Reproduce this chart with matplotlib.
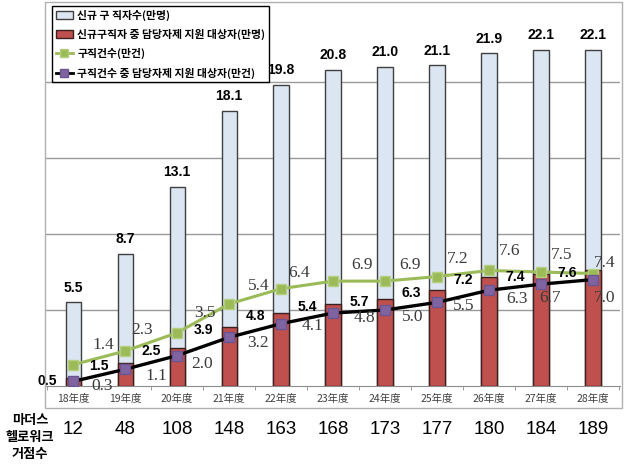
import numpy as np
import matplotlib.pyplot as plt
from matplotlib.patches import Rectangle, Patch
from matplotlib.lines import Line2D
import matplotlib.transforms as mtransforms

plt.rcParams['font.family'] = ['Noto Sans CJK KR', 'DejaVu Sans']

years = ['18年度', '19年度', '20年度', '21年度', '22年度', '23年度',
         '24年度', '25年度', '26年度', '27年度', '28年度']
new_seekers = [5.5, 8.7, 13.1, 18.1, 19.8, 20.8, 21.0, 21.1, 21.9, 22.1, 22.1]      # 신규 구직자수(만명)
new_support = [0.5, 1.5, 2.5, 3.9, 4.8, 5.4, 5.7, 6.3, 7.2, 7.4, 7.6]               # 담당자제 지원 대상자(만명)
jobs = [1.4, 2.3, 3.5, 5.4, 6.4, 6.9, 6.9, 7.2, 7.6, 7.5, 7.4]                      # 구직건수(만건)
jobs_support = [0.3, 1.1, 2.0, 3.2, 4.1, 4.8, 5.0, 5.5, 6.3, 6.7, 7.0]              # 구직건수 중 대상자(만건)
bases = [12, 48, 108, 148, 163, 168, 173, 177, 180, 184, 189]                       # 마더스 헬로워크 거점수

legend_labels = ['신규 구 직자수(만명)', '신규구직자 중 담당자제 지원 대상자(만명)',
                 '구직건수(만건)', '구직건수 중 담당자제 지원 대상자(만건)']

# label offsets in pixels (dx, dy) for the two line series
green_off = [(30, 20), (17, 21), (28, 20), (30, 18), (18, 16), (29, 16),
             (25, 16), (21, 18), (21, 19), (21, 17), (12, 11)]
black_off = [(29, -5), (31, -7), (25, -8), (29, -6), (31, -2), (31, -5),
             (28, -7), (27, -4), (28, -9), (9, -14), (12, -18)]

W, H = 624, 470
fig = plt.figure(figsize=(W / 100, H / 100), dpi=100)
ax = fig.add_axes([45 / W, 84 / H, 575 / W, 385 / H])

x = np.arange(len(years))
bw = 0.29
blue = '#dce6f2'
red = '#c0504d'
green = '#9bbb59'
purple = '#8064a2'

# outer chart frame
fig.patches.append(Rectangle((45 / W, 62 / H), 577 / W, 406 / H, transform=fig.transFigure,
                             fill=False, edgecolor='#b0b0b0', lw=1.0))

ax.bar(x, new_seekers, bw, color=blue, edgecolor='#3f3f3f', lw=1.0, zorder=2)
ax.bar(x, new_support, bw, color=red, edgecolor='#3a2020', lw=1.0, zorder=3)
ax.plot(x, jobs, color=green, lw=2.2, marker='s', ms=7, mfc=green, mec='#b5cf80', zorder=4)
ax.plot(x, jobs_support, color='black', lw=2.4, marker='s', ms=7.5, mfc=purple, mec='#6a5590', zorder=5)

ax.set_xlim(-0.54, 10.52)
ax.set_ylim(0, 385 / 15.2)
ax.set_yticks([5, 10, 15, 20])
ax.yaxis.grid(True, color='#9a9a9a', lw=1.0, zorder=0)
ax.set_axisbelow(True)
ax.tick_params(axis='y', left=False, labelleft=False)
for s in ['left', 'right', 'top']:
    ax.spines[s].set_visible(False)
ax.spines['bottom'].set_color('#8c8c8c')

ax.set_xticks(x)
ax.set_xticklabels(years, fontsize=7.5, color='#404040')
ax.tick_params(axis='x', length=0, pad=6)
ax.set_xticks(np.arange(-0.5, 11, 1), minor=True)
ax.tick_params(axis='x', which='minor', length=3, color='#8c8c8c')

sans_bold = dict(family='Liberation Sans', fontweight='bold', fontsize=10, color='black')
serif = dict(family='Liberation Serif', fontsize=12.5, color='#3a3a3a')

for xi, v in zip(x, new_seekers):
    ax.text(xi, v + 0.5, f'{v:.1f}', ha='center', va='bottom', zorder=6, **sans_bold)
off_r = mtransforms.offset_copy(ax.transData, fig=fig, x=-16, y=-3, units='dots')
for xi, v in zip(x, new_support):
    ax.text(xi, v, f'{v:.1f}', transform=off_r, ha='right', va='center', zorder=6, **sans_bold)

for xi, v, (dx, dy) in zip(x, jobs, green_off):
    tr = mtransforms.offset_copy(ax.transData, fig=fig, x=dx, y=dy, units='dots')
    ax.text(xi, v, f'{v:.1f}', transform=tr, ha='center', va='center', zorder=6, **serif)
for xi, v, (dx, dy) in zip(x, jobs_support, black_off):
    tr = mtransforms.offset_copy(ax.transData, fig=fig, x=dx, y=dy, units='dots')
    ax.text(xi, v, f'{v:.1f}', transform=tr, ha='center', va='center', zorder=6, **serif)

# bottom row: number of Mothers Hello Work bases
trans = mtransforms.blended_transform_factory(ax.transData, fig.transFigure)
for xi, b in zip(x, bases):
    ax.text(xi, (H - 429) / H, str(b), transform=trans, ha='center', va='center',
            family='Liberation Sans', fontsize=13.5, color='black')
fig.text(30 / W, (H - 437) / H, '마더스\n헬로워크\n거점수', ha='center', va='center',
         fontsize=9.5, fontweight='bold', linespacing=1.25)

handles = [Patch(facecolor=blue, edgecolor='#3f3f3f'),
           Patch(facecolor=red, edgecolor='#3a2020'),
           Line2D([], [], color=green, lw=2, marker='s', ms=6, mfc=green, mec='#b5cf80'),
           Line2D([], [], color='black', lw=2, marker='s', ms=6, mfc=purple, mec='#6a5590')]
leg = fig.legend(handles, legend_labels, loc='upper left', bbox_to_anchor=(52 / W, (H - 6) / H),
                 prop={'family': 'Noto Sans CJK KR', 'weight': 'bold', 'size': 7.8},
                 frameon=True, fancybox=False, edgecolor='black', framealpha=1,
                 handlelength=1.6, handletextpad=0.4, labelspacing=0.75, borderpad=0.35,
                 borderaxespad=0)
leg.get_frame().set_linewidth(1.0)
leg.set_zorder(10)

fig.savefig('out.png', dpi=100)
